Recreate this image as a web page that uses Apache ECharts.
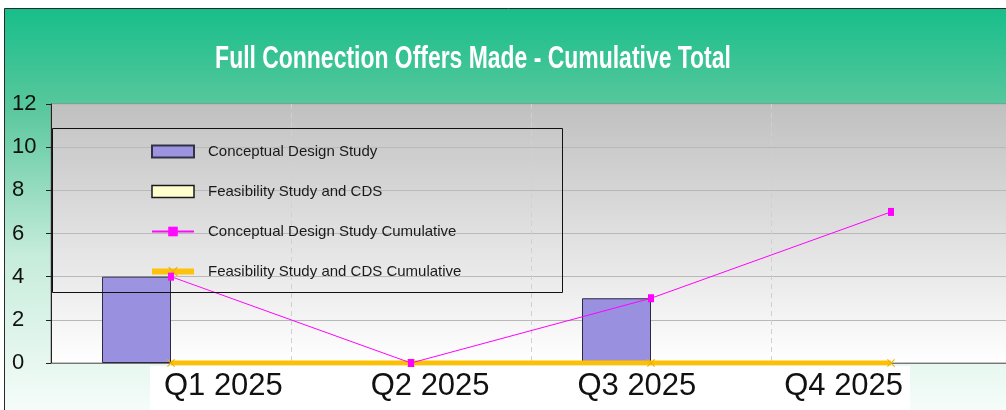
<!DOCTYPE html>
<html>
<head>
<meta charset="utf-8">
<script src="https://cdn.jsdelivr.net/npm/echarts@6/dist/echarts.min.js"></script>
<style>
  html, body { margin: 0; padding: 0; background: #fff; overflow: hidden; }
  /* plot area runs past the right edge of the picture */
  #chart { width: 1011px; height: 410px; }
</style>
</head>
<body>
<div id="chart"></div>
<script>
var quarters = ['Q1 2025', 'Q2 2025', 'Q3 2025', 'Q4 2025'];
var cdsValues = [4, 0, 3, 0];
var feasValues = [0, 0, 0, 0];
var cdsCumulative = [4, 0, 3, 7];
var feasCumulative = [0, 0, 0, 0];
var yTicks = [0, 2, 4, 6, 8, 10, 12];

var sans = '"Liberation Sans", Arial, sans-serif';
var crossPath = 'path://M0,1L1,0L5,4L9,0L10,1L6,5L10,9L9,10L5,6L1,10L0,9L4,5Z';

// zero-height bars draw no outline
function barData(arr) {
    return arr.map(function(v) {
        return v === 0 ? { value: 0, itemStyle: { borderWidth: 0 } } : v;
    });
}

var chart = echarts.init(document.getElementById('chart'));

chart.setOption({
    animation: false,
    graphic: [
        {
            type: 'rect', z: -20,
            shape: { x: 4.5, y: 8.5, width: 1010, height: 410 },
            style: {
                fill: new echarts.graphic.LinearGradient(0, 0, 0, 1, [
                    { offset: 0, color: '#17be8a' },
                    { offset: 0.25, color: '#5bc89e' },
                    { offset: 0.6, color: '#c6ecdb' },
                    { offset: 1, color: '#f8fdfb' }
                ]),
                stroke: '#2a2a2a', lineWidth: 1
            }
        },
        {
            type: 'rect', z: -10,
            shape: { x: 51, y: 104, width: 960, height: 259 },
            style: {
                fill: new echarts.graphic.LinearGradient(0, 0, 0, 1, [
                    { offset: 0, color: '#c0c0c0' },
                    { offset: 1, color: '#ffffff' }
                ]),
                stroke: '#888', lineWidth: 1
            }
        },
        {
            type: 'rect', z: -5,
            shape: { x: 150, y: 366, width: 760, height: 50 },
            style: { fill: '#fff' }
        },
        {
            type: 'rect', z: 5,
            shape: { x: 52.5, y: 128.5, width: 510, height: 164 },
            style: { fill: 'rgba(255,255,255,0.04)', stroke: '#111', lineWidth: 1 }
        },
        {
            type: 'text', z: 10,
            x: 473, y: 59,
            scaleX: 0.74,
            style: {
                text: 'Full Connection Offers Made - Cumulative Total',
                fill: '#fff',
                font: 'bold 31px ' + sans,
                textAlign: 'center',
                textVerticalAlign: 'middle'
            }
        }
    ],
    legend: {
        orient: 'vertical',
        left: 144,
        top: 139,
        itemWidth: 42,
        itemHeight: 12,
        itemGap: 25,
        textStyle: { fontFamily: sans, fontSize: 15, color: '#111', padding: [0, 0, 0, 9] },
        data: [
            { name: 'Conceptual Design Study', icon: 'rect' },
            { name: 'Feasibility Study and CDS', icon: 'rect',
              itemStyle: { color: '#ffffcc', borderColor: '#111', borderWidth: 1.5 } },
            { name: 'Conceptual Design Study Cumulative' },
            { name: 'Feasibility Study and CDS Cumulative', lineStyle: { width: 6 } }
        ]
    },
    grid: [
        { left: 51, right: 0, top: 104, bottom: 47 },
        // label strip: quarter names sit on their own narrower band
        { left: 120, width: 827, top: 104, bottom: 47 }
    ],
    xAxis: [
        {
            type: 'category',
            data: quarters,
            axisLine: { lineStyle: { color: '#777' } },
            axisTick: { show: false },
            axisLabel: { show: false },
            splitLine: { show: true, lineStyle: { color: '#d0d0d0', type: [5, 4] } }
        },
        {
            type: 'category',
            gridIndex: 1,
            data: quarters,
            axisLine: { show: false },
            axisTick: { show: false },
            splitLine: { show: false },
            axisLabel: {
                fontFamily: sans,
                fontSize: 31,
                color: '#111',
                margin: 8
            }
        }
    ],
    yAxis: [
        {
            type: 'value',
            min: yTicks[0],
            max: yTicks[yTicks.length - 1],
            interval: 2,
            axisLine: { show: true, lineStyle: { color: '#222' } },
            axisTick: { show: true, length: 5, lineStyle: { color: '#222' } },
            axisLabel: {
                align: 'left',
                margin: 39,
                fontFamily: sans,
                fontSize: 22,
                color: '#111'
            },
            splitLine: { lineStyle: { color: '#b8b8b8' } }
        },
        {
            type: 'value',
            gridIndex: 1,
            min: yTicks[0],
            max: yTicks[yTicks.length - 1],
            show: false
        }
    ],
    series: [
        {
            name: 'Conceptual Design Study',
            type: 'bar',
            data: barData(cdsValues),
            barWidth: 69,
            barGap: '0%',
            itemStyle: { color: '#9a90e0', borderColor: '#2a2a40', borderWidth: 1 }
        },
        {
            name: 'Feasibility Study and CDS',
            type: 'bar',
            data: barData(feasValues),
            barWidth: 69,
            barGap: '0%',
            itemStyle: { color: '#ffffcc', borderColor: '#2a2a2a', borderWidth: 1 }
        },
        {
            name: 'Feasibility Study and CDS Cumulative',
            type: 'line',
            data: feasCumulative,
            z: 3,
            lineStyle: { color: '#ffc000', width: 5 },
            itemStyle: { color: '#f0b000' },
            symbol: crossPath,
            symbolSize: 8
        },
        {
            name: 'Conceptual Design Study Cumulative',
            type: 'line',
            data: cdsCumulative,
            z: 4,
            lineStyle: { color: '#ff00ff', width: 1 },
            itemStyle: { color: '#ff00ff' },
            symbol: 'rect',
            symbolSize: [6, 8]
        }
    ]
});
</script>
</body>
</html>
